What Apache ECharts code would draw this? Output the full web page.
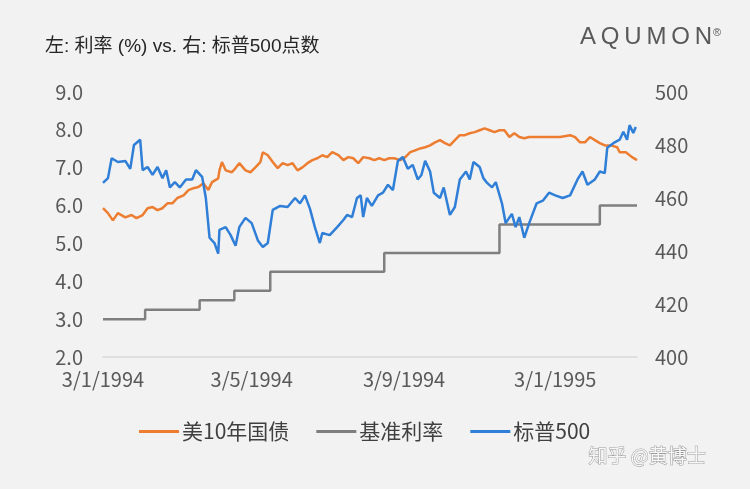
<!DOCTYPE html>
<html><head><meta charset="utf-8">
<script src="https://cdn.jsdelivr.net/npm/echarts@6/dist/echarts.min.js"></script>
<style>html,body{margin:0;padding:0;background:#f2f2f2}#c{width:750px;height:489px}</style>
</head><body><div id="c"></div>
<script>
// days since 3/1/1994 (3 Jan 1994)
const startDate = Date.UTC(1994,0,3);
const tickDays = [0,120,243,365];
const ustDays = [0,4,8,12,18,23,27,32,36,40,44,48,52,56,60,65,69,73,77,81,85,88,93,94,96,99,104,107,110,115,119,123,127,129,133,137,141,145,149,153,157,161,165,169,173,177,181,185,190,194,198,202,206,210,215,219,223,227,231,235,240,244,248,252,256,260,264,268,272,276,280,284,288,292,296,300,304,308,312,316,320,324,328,332,336,340,344,352,360,369,377,381,385,389,393,397,401,405,410,415,417,422,427,431];
const ustVals = [5.93,5.80,5.61,5.80,5.69,5.75,5.67,5.75,5.93,5.96,5.88,5.93,6.06,6.06,6.20,6.27,6.41,6.46,6.49,6.59,6.41,6.62,6.72,6.93,7.15,6.93,6.88,6.99,7.12,6.93,6.88,7.01,7.15,7.41,7.33,7.15,6.99,7.12,7.07,7.12,6.93,7.01,7.12,7.20,7.25,7.33,7.28,7.41,7.33,7.20,7.28,7.25,7.12,7.28,7.25,7.20,7.25,7.20,7.25,7.25,7.20,7.28,7.41,7.46,7.51,7.54,7.59,7.67,7.73,7.65,7.59,7.73,7.86,7.86,7.91,7.94,7.99,8.04,7.99,7.94,7.99,7.99,7.81,7.91,7.81,7.78,7.81,7.81,7.81,7.81,7.86,7.81,7.67,7.67,7.81,7.73,7.65,7.59,7.59,7.54,7.41,7.41,7.28,7.20];
const fedDays = [0,34,78,106,135,227,320,401,431];
const fedVals = [3.0,3.25,3.5,3.75,4.25,4.75,5.5,6.0,6.0];
const spxDays = [0,4,7,12,18,22,25,30,32,36,40,44,48,51,54,58,62,67,72,75,80,83,86,90,93,94,99,103,107,110,115,120,125,129,133,137,143,149,155,159,163,167,171,175,177,183,189,194,197,201,205,208,210,213,217,222,226,230,234,238,242,246,250,254,257,260,264,267,272,275,280,284,288,293,296,299,304,307,310,314,317,322,325,330,333,336,340,344,350,355,360,365,371,377,383,387,391,397,401,405,407,413,417,420,423,425,428,430];
const spxVals = [465.7,467.5,475,473.6,474,471,480,482,470.5,471.7,468.7,471.7,467.5,470.5,464,466,464,467,467,470.5,468,460,445,443,439,448,449,446,442,449,452.5,450.5,444,441.5,443,455.5,457,456.6,460,458,461,456,449,443,446.8,446,449,451.7,453.6,452.8,460,461,452.8,460,457,461,462,465,463,474,475.5,471,472.5,467,468.7,474,470,462,460,464,453.6,456.6,467,470,467,473.6,471.7,467.5,465.7,464,466,458,450.5,454,449,452.8,445,450.5,458,459,462,461,460,461,467,470,465,467,470,469.4,479,481,482,485,482,487.5,484.5,486.8];

const zip = (a,b)=>a.map((d,i)=>[d,b[i]]);
const fmt = d => { const t=new Date(startDate+d*86400000); return t.getUTCDate()+'/'+(t.getUTCMonth()+1)+'/'+t.getUTCFullYear(); };
const FF = '"Liberation Sans Narrow", "Noto Sans CJK SC", sans-serif';
const lab = {color:'#595959',fontSize:20,fontFamily:FF};
const chart = echarts.init(document.getElementById('c'));
chart.setOption({
  backgroundColor:'#f2f2f2',
  animation:false,
  title:{text:'左: 利率 (%) vs. 右: 标普500点数',left:40,top:32,textStyle:{color:'#262626',fontSize:19,fontWeight:'normal',fontFamily:'"Liberation Sans", "Noto Sans CJK SC", sans-serif'}},
  graphic:[
    {type:'text',left:580,top:25,style:{text:'A\u2009Q\u2009U\u2009M\u2009O\u2009N',fill:'#595959',font:'24px "Liberation Sans", sans-serif'}},
    {type:'text',left:713,top:27,style:{text:'®',fill:'#595959',font:'11px sans-serif'}},
    {type:'text',left:588,top:446,style:{text:'知乎 @黄博士',fill:'#f8f8f8',stroke:'#9a9a9a',lineWidth:1,font:'19px "Noto Sans CJK SC", sans-serif'}}
  ],
  legend:{bottom:42,left:134,itemGap:27,itemWidth:40,itemHeight:3,icon:'rect',
    textStyle:{color:'#404040',fontSize:21,fontFamily:FF,padding:[0,0,0,-2]},
    data:['美10年国债','基准利率','标普500']},
  grid:{left:103,right:113,top:92,bottom:132},
  xAxis:{type:'value',min:0,max:431,splitLine:{show:false},
    axisLine:{lineStyle:{color:'#d9d9d9',width:1.5}},axisTick:{show:false},
    axisLabel:Object.assign({},lab,{customValues:tickDays,formatter:v=>fmt(v),margin:12})},
  yAxis:[
    {type:'value',min:2,max:9,interval:1,splitLine:{show:false},axisLine:{show:false},axisTick:{show:false},
      axisLabel:Object.assign({},lab,{formatter:v=>v.toFixed(1),margin:20})},
    {type:'value',min:400,max:500,interval:20,splitLine:{show:false},axisLine:{show:false},axisTick:{show:false},
      axisLabel:Object.assign({},lab,{margin:18})}
  ],
  series:[
    {name:'美10年国债',type:'line',data:zip(ustDays,ustVals),showSymbol:false,lineStyle:{width:2.5,color:'#ed7d31'},itemStyle:{color:'#ed7d31'}},
    {name:'基准利率',type:'line',step:'end',data:zip(fedDays,fedVals),showSymbol:false,lineStyle:{width:2.5,color:'#7f7f7f'},itemStyle:{color:'#7f7f7f'}},
    {name:'标普500',type:'line',yAxisIndex:1,data:zip(spxDays,spxVals),showSymbol:false,lineStyle:{width:2.5,color:'#2f7ed8'},itemStyle:{color:'#2f7ed8'}}
  ]
});
</script></body></html>
